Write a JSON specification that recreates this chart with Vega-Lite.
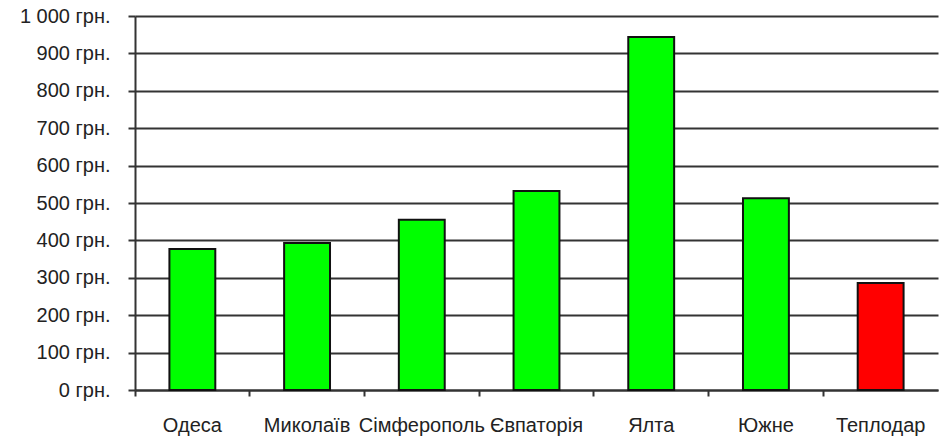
{
  "$schema": "https://vega.github.io/schema/vega-lite/v6.json",
  "autosize": "none",
  "width": 793,
  "height": 374,
  "padding": {"left": 135, "top": 16, "right": 20, "bottom": 52},
  "background": "white",
  "config": {
    "view": {"stroke": null},
    "font": "Liberation Sans"
  },
  "data": {
    "values": [
      {"city": "Одеса", "price": 377, "highlight": "no"},
      {"city": "Миколаїв", "price": 393, "highlight": "no"},
      {"city": "Сімферополь", "price": 455, "highlight": "no"},
      {"city": "Євпаторія", "price": 532, "highlight": "no"},
      {"city": "Ялта", "price": 944, "highlight": "no"},
      {"city": "Южне", "price": 513, "highlight": "no"},
      {"city": "Теплодар", "price": 286, "highlight": "yes"}
    ]
  },
  "mark": {"type": "bar", "stroke": "#111111", "strokeWidth": 2},
  "encoding": {
    "x": {
      "field": "city",
      "type": "nominal",
      "sort": null,
      "scale": {"paddingInner": 0.6, "paddingOuter": 0.3, "range": [0, 803]},
      "axis": {
        "title": null,
        "bandPosition": -0.75,
        "labelOffset": 0,
        "labelAlign": "center",
        "labelAngle": 0,
        "labelFontSize": 20,
        "labelColor": "#222222",
        "labelPadding": 19,
        "labelBound": false,
        "labelOverlap": false,
        "tickSize": 6,
        "tickColor": "#333333",
        "tickWidth": 2,
        "domainColor": "#333333",
        "domainWidth": 2,
        "grid": false
      }
    },
    "y": {
      "field": "price",
      "type": "quantitative",
      "scale": {"domain": [0, 1000], "nice": false},
      "axis": {
        "title": null,
        "values": [0, 100, 200, 300, 400, 500, 600, 700, 800, 900, 1000],
        "labelExpr": "replace(format(datum.value, ',d'), ',', ' ') + ' грн.'",
        "labelFontSize": 20,
        "labelColor": "#222222",
        "labelPadding": 18,
        "tickSize": 7,
        "tickColor": "#333333",
        "tickWidth": 2,
        "domainColor": "#333333",
        "domainWidth": 2,
        "grid": true,
        "gridColor": "#333333",
        "gridWidth": 2,
        "gridOpacity": 1
      }
    },
    "color": {
      "field": "highlight",
      "type": "nominal",
      "scale": {"domain": ["no", "yes"], "range": ["#00ff00", "#ff0000"]},
      "legend": null
    }
  }
}
